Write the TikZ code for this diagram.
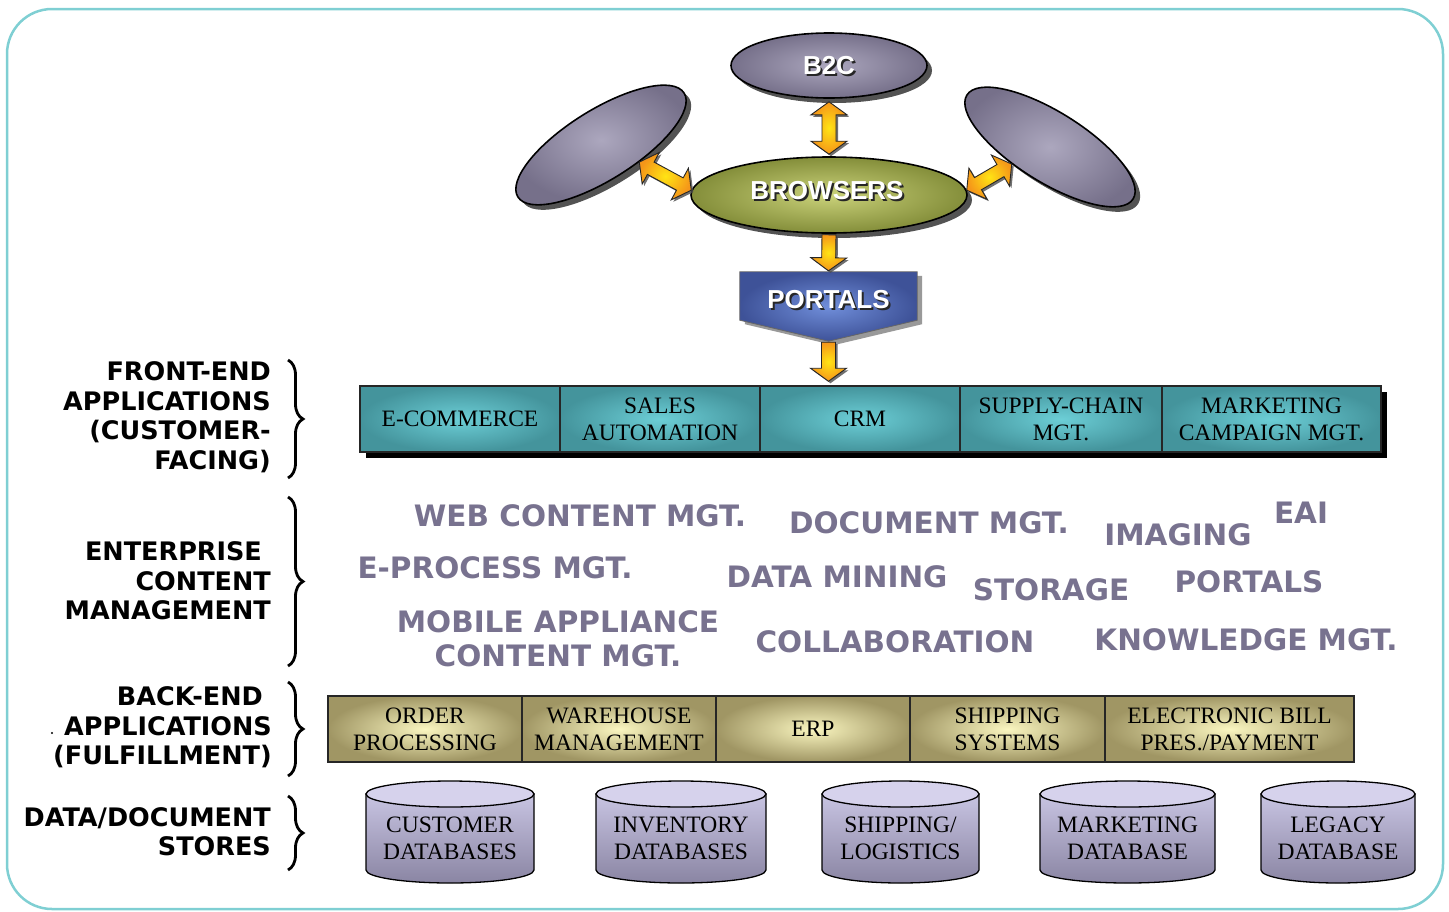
\documentclass[tikz,border=0pt]{standalone}
\usepackage{fontspec}
\setmainfont{Liberation Serif}
\newfontfamily\heavyfont{DejaVu Sans}
\newfontfamily\arialfont{Liberation Sans}
\usetikzlibrary{calc,shadows,decorations.pathreplacing,shapes.geometric}

\definecolor{bordercol}{RGB}{127,207,211}
\definecolor{ecmcol}{RGB}{120,114,143}
\definecolor{ellout}{RGB}{118,112,138}
\definecolor{ellin}{RGB}{172,167,190}
\definecolor{brout}{RGB}{132,142,58}
\definecolor{brin}{RGB}{202,210,122}
\definecolor{porin}{RGB}{112,142,218}
\definecolor{porout}{RGB}{62,82,152}
\definecolor{tealout}{RGB}{68,148,156}
\definecolor{tealin}{RGB}{108,206,214}
\definecolor{khout}{RGB}{160,150,100}
\definecolor{khin}{RGB}{250,246,192}
\definecolor{cyltopc}{RGB}{214,210,236}
\definecolor{cylmid}{RGB}{200,196,226}
\definecolor{cylbot}{RGB}{138,133,163}
\definecolor{arrtop}{RGB}{255,228,20}
\definecolor{arrbot}{RGB}{245,150,25}

\tikzset{
  ell/.style={ellipse, draw=black, line width=1.6pt, inner sep=0pt,
    inner color=ellin, outer color=ellout,
    drop shadow={shadow xshift=5pt, shadow yshift=-5pt, fill=black!75, opacity=0.9}},
  whitetext/.style={font=\arialfont\bfseries\fontsize{26}{30}\selectfont, text=white, inner sep=0pt},
  shadowtext/.style={whitetext, text=black!85},
  frontbox/.style={rectangle, draw=black!85, line width=1.5pt, inner color=tealin, outer color=tealout,
    minimum height=66pt, align=center, font=\fontsize{23.5}{27}\selectfont, inner sep=0pt},
  backbox/.style={rectangle, draw=black!85, line width=1.3pt, inner color=khin, outer color=khout,
    minimum height=66pt, align=center, font=\fontsize{23.5}{27}\selectfont, inner sep=0pt},
  ecmtext/.style={font=\heavyfont\bfseries\fontsize{29.5}{34}\selectfont, text=ecmcol, align=center, inner sep=0pt},
  sidelabel/.style={font=\heavyfont\bfseries\fontsize{25.5}{29.5}\selectfont, align=right, anchor=east, inner sep=0pt},
  sidebrace/.style={draw=black, line width=2.8pt, decorate, decoration={brace, amplitude=15pt}},
  yarrow/.style={draw=black!85, line width=0.9pt, inner color=arrtop, outer color=arrbot,
    drop shadow={shadow xshift=2pt, shadow yshift=-2pt, fill=black!70, opacity=0.8}},
  cylbody/.style={draw=black, line width=1.3pt, top color=cylmid, bottom color=cylbot},
  cyltop/.style={draw=black, line width=1.3pt, fill=cyltopc},
  cyltext/.style={align=center, font=\fontsize{23.5}{27}\selectfont, inner sep=0pt},
}

\newcommand\sarrow[2]{%
  \coordinate (tmpA) at (#1); \coordinate (tmpB) at (#2);
  \coordinate (tmpE) at ($(tmpB)!13pt!(tmpA)$);
  \draw[yarrow] ($(tmpA)!7pt!90:(tmpB)$) -- ($(tmpE)!7pt!-90:(tmpA)$) -- ($(tmpE)!18pt!-90:(tmpA)$)
    -- (tmpB) -- ($(tmpE)!18pt!90:(tmpA)$) -- ($(tmpE)!7pt!90:(tmpA)$) -- ($(tmpA)!7pt!-90:(tmpB)$) -- cycle;}
\newcommand\darrow[2]{%
  \coordinate (tmpA) at (#1); \coordinate (tmpB) at (#2);
  \coordinate (tmpS) at ($(tmpA)!13pt!(tmpB)$);
  \coordinate (tmpE) at ($(tmpB)!13pt!(tmpA)$);
  \draw[yarrow] (tmpA) -- ($(tmpS)!18pt!90:(tmpB)$) -- ($(tmpS)!7pt!90:(tmpB)$) -- ($(tmpE)!7pt!-90:(tmpA)$)
    -- ($(tmpE)!18pt!-90:(tmpA)$) -- (tmpB) -- ($(tmpE)!18pt!90:(tmpA)$) -- ($(tmpE)!7pt!90:(tmpA)$)
    -- ($(tmpS)!7pt!-90:(tmpB)$) -- ($(tmpS)!18pt!-90:(tmpB)$) -- cycle;}
\newcommand\dbcyl[4]{% name, centre x, width, text
  \pgfmathsetmacro\cyr{#3/2}
  \draw[cylbody] ({#2-\cyr},794) -- ({#2-\cyr},870) arc[start angle=180, end angle=360, x radius=\cyr pt, y radius=13pt]
    -- ({#2+\cyr},794) -- cycle;
  \draw[cyltop] (#2,794) ellipse[x radius=\cyr pt, y radius=13pt];
  \node[cyltext] (#1) at (#2,838) {#4};}

\begin{document}
\begin{tikzpicture}[x=1pt,y=-1pt]
\useasboundingbox (0,0) rectangle (1449,911);
\draw[bordercol, line width=2.5pt, rounded corners=45pt] (7,9) rectangle (1443,909);

% top ellipses
\node[ell, minimum width=196pt, minimum height=65pt] (b2c) at (829,65.5) {};
\node[ell, minimum width=196pt, minimum height=70pt, rotate=32] (lell) at (601,145) {};
\node[ell, minimum width=196pt, minimum height=70pt, rotate=-32] (rell) at (1050,147) {};
\node[ell, inner color=brin, outer color=brout, minimum width=276pt, minimum height=76pt] (browsers) at (829,195) {};
\node[shadowtext] (b2cs) at ($(b2c)+(2,2)$) {B2C};
\node[whitetext] (b2ct) at (b2c) {B2C};
\node[shadowtext] (brs) at ($(browsers)+(0,-2)$) {BROWSERS};
\node[whitetext] (brt) at ($(browsers)+(-2,-4)$) {BROWSERS};

% portals
\node[minimum width=177pt, minimum height=48pt, inner sep=0pt] (portalbox) at (828.5,296) {};
\coordinate (ptip) at ($(portalbox.south)+(0,21)$);
\path[draw=black!60, line width=0.8pt, inner color=porin, outer color=porout,
  drop shadow={shadow xshift=5pt, shadow yshift=-4pt, fill=black!80}]
  (portalbox.north west) -- (portalbox.north east) -- (portalbox.south east) -- (ptip) -- (portalbox.south west) -- cycle;
\node[shadowtext] (pts) at ($(portalbox)+(2,6)$) {PORTALS};
\node[whitetext] (ptt) at ($(portalbox)+(0,4)$) {PORTALS};

% side labels
\node[sidelabel] (lfe) at (271,417) {FRONT-END\\APPLICATIONS\\(CUSTOMER-\\FACING)};
\node[sidelabel] (lecm) at (271,581) {ENTERPRISE\hspace*{.35em}\\CONTENT\\MANAGEMENT};
\node[sidelabel] (lbe) at (272,727.5) {BACK-END\hspace*{.35em}\\APPLICATIONS\hspace*{2pt}\\(FULFILLMENT)};
\node[sidelabel] (lds) at (271,831.5) {DATA/DOCUMENT\\STORES};
\node[circle, fill=black, inner sep=0.8pt] (dot) at (52,733) {};
\draw[sidebrace] (288,360) -- (288,478);
\draw[sidebrace] (288,497) -- (288,666);
\draw[sidebrace] (288,682) -- (288,776);
\draw[sidebrace] (288,796) -- (288,870);

% front-end row
\fill[black] (366,392) rectangle (1387,458);
\node[frontbox, minimum width=200pt] (ecom) at (460,419) {E-COMMERCE};
\node[frontbox, minimum width=200pt] (sales) at (660,419) {SALES\\AUTOMATION};
\node[frontbox, minimum width=200pt] (crm) at (860,419) {CRM};
\node[frontbox, minimum width=202pt] (scm) at (1061,419) {SUPPLY-CHAIN\\MGT.};
\node[frontbox, minimum width=219pt] (mcm) at (1271.5,419) {MARKETING\\CAMPAIGN MGT.};

% yellow arrows
\darrow{$(b2c.south)+(0,3)$}{$(browsers.north)+(0,-2)$}
\darrow{lell.-56}{browsers.178}
\darrow{browsers.2}{rell.-124}
\sarrow{$(browsers.south)+(0,1)$}{$(portalbox.north)+(0,-1)$}
\sarrow{$(ptip)+(0,1)$}{$(ptip |- crm.north)+(0,-4)$}

% enterprise content management
\node[ecmtext] (wcm) at (580,516) {WEB CONTENT MGT.};
\node[ecmtext] (dcm) at (929,523) {DOCUMENT MGT.};
\node[ecmtext] (img) at (1178,535) {IMAGING};
\node[ecmtext] (eai) at (1301,513) {EAI};
\node[ecmtext] (epm) at (495,568) {E-PROCESS MGT.};
\node[ecmtext] (dmin) at (837,577) {DATA MINING};
\node[ecmtext] (stor) at (1051,590) {STORAGE};
\node[ecmtext] (eportals) at (1249,582) {PORTALS};
\node[ecmtext] (mob) at (558,639) {MOBILE APPLIANCE\\CONTENT MGT.};
\node[ecmtext] (coll) at (895,642) {COLLABORATION};
\node[ecmtext] (know) at (1246,640) {KNOWLEDGE MGT.};

% back-end row
\node[backbox, minimum width=194pt] (order) at (425,729) {ORDER\\PROCESSING};
\node[backbox, minimum width=194pt] (wh) at (619,729) {WAREHOUSE\\MANAGEMENT};
\node[backbox, minimum width=194pt] (erp) at (813,729) {ERP};
\node[backbox, minimum width=195pt] (ship) at (1007.5,729) {SHIPPING\\SYSTEMS};
\node[backbox, minimum width=249pt] (ebill) at (1229.5,729) {ELECTRONIC BILL\\PRES./PAYMENT};

% data stores
\dbcyl{custdb}{450}{168}{CUSTOMER\\DATABASES}
\dbcyl{invdb}{681}{170}{INVENTORY\\DATABASES}
\dbcyl{shipdb}{900.5}{157}{SHIPPING/\\LOGISTICS}
\dbcyl{mktdb}{1127.5}{175}{MARKETING\\DATABASE}
\dbcyl{legdb}{1338}{154}{LEGACY\\DATABASE}
\end{tikzpicture}
\end{document}
